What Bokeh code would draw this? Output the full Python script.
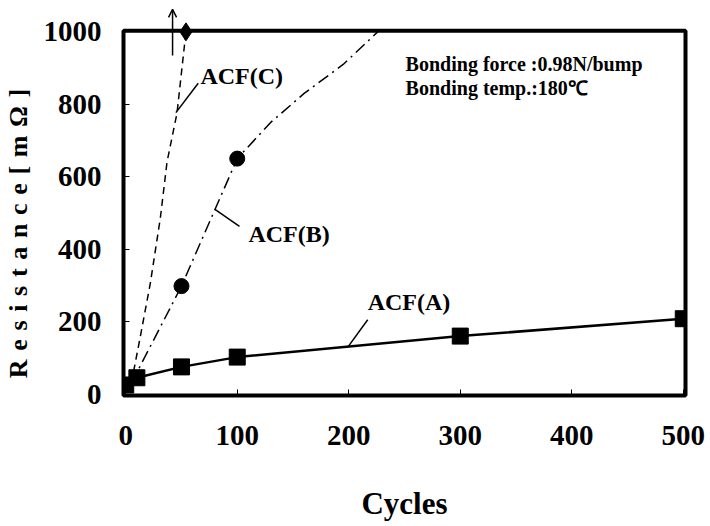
from bokeh.plotting import figure
from bokeh.models import Range1d, FixedTicker, Arrow, OpenHead
from bokeh.core.properties import value
from bokeh.embed import file_html
from bokeh.resources import INLINE

# ---- data ----
x_ticks = [0, 100, 200, 300, 400, 500]
y_ticks = [0, 200, 400, 600, 800, 1000]

# ACF(A): solid line with squares
a_cycles = [0, 10, 50, 100, 300, 500]
a_res = [25, 45, 75, 102, 160, 208]

# ACF(B): dash-dot line, circles at measured points
b_cycles = [5, 50, 100, 130, 160, 195, 226]
b_res = [30, 298, 650, 750, 830, 910, 1000]
b_mark_cycles = [50, 100]
b_mark_res = [298, 650]

# ACF(C): dashed line, diamond where it leaves the scale
c_cycles = [5, 12, 22, 31, 37, 46, 54]
c_res = [30, 141, 305, 485, 640, 776, 1000]
c_mark_cycles = [54]
c_mark_res = [1000]

# off-scale arrow for ACF(C)
arrow_x = 42
arrow_y0 = 935
arrow_y1 = 1062

# annotation texts
label_text = ["ACF(C)", "ACF(B)", "ACF(A)"]
label_x = [67, 110, 217]
label_y = [879, 441, 255]
lead_x0 = [65, 102, 217]
lead_y0 = [858, 463, 205]
lead_x1 = [45, 80, 199]
lead_y1 = [777, 510, 129]

cond_text = ["Bonding force :0.98N/bump", "Bonding temp.:180\u2103"]
cond_x = [251, 251]
cond_y = [912, 844]

# plot box (axes frame) limits
box_left, box_right = -2, 502
box_bottom, box_top = -4, 1003
view_top = 1070   # room above the box for the off-scale arrow

FONT = "Liberation Serif"
SP = "\u2004"
y_title = SP.join(list("Resistance[m\u03a9]")) + "\u2003\u2003\u2002"

p = figure(width=708, height=524, output_backend="svg", toolbar_location=None,
           x_range=Range1d(box_left, box_right), y_range=Range1d(box_bottom, view_top),
           min_border_left=123, min_border_right=23, min_border_top=6,
           min_border_bottom=129)

p.grid.visible = False
p.outline_line_color = None
p.background_fill_color = "white"
p.border_fill_color = "white"

for ax in (p.xaxis[0], p.yaxis[0]):
    ax.axis_line_color = None
    ax.major_tick_in = 6
    ax.major_tick_out = 0
    ax.minor_tick_line_color = None
    ax.major_tick_line_color = "black"
    ax.major_tick_line_width = 1
    ax.major_label_text_font = FONT
    ax.major_label_text_font_style = "bold"
    ax.major_label_text_font_size = "29px"
    ax.major_label_text_color = "black"
    ax.axis_label_text_font = FONT
    ax.axis_label_text_font_style = "bold"
    ax.axis_label_text_color = "black"

p.xaxis.ticker = FixedTicker(ticks=x_ticks)
p.yaxis.ticker = FixedTicker(ticks=y_ticks)
p.xaxis.major_label_standoff = 30
p.yaxis.major_label_standoff = 22
p.xaxis.axis_label = "Cycles"
p.xaxis.axis_label_text_font_size = "31px"
p.xaxis.axis_label_standoff = 38
p.yaxis.axis_label = y_title
p.yaxis.axis_label_text_font_size = "26px"
p.yaxis.axis_label_standoff = 8

# thick box around the data area
p.quad(left=[box_left], right=[box_right], bottom=[box_bottom], top=[box_top],
       fill_color=None, line_color="black", line_width=4, level="overlay")

# ACF(A)
p.line(a_cycles, a_res, line_color="black", line_width=2.5)
p.scatter(a_cycles, a_res, marker="square", size=16, fill_color="black",
          line_color="black")

# ACF(B)
p.line(b_cycles, b_res, line_color="black", line_width=1.5, line_dash="12 5 2 5")
p.scatter(b_mark_cycles, b_mark_res, marker="circle", size=15, fill_color="black",
          line_color="black")

# ACF(C)
p.line(c_cycles, c_res, line_color="black", line_width=1.5, line_dash="7 5")
p.scatter(c_mark_cycles, c_mark_res, marker="diamond", size=18, fill_color="black",
          line_color="black", level="overlay")
p.add_layout(Arrow(end=OpenHead(size=8, line_color="black", line_width=1.5),
                   x_start=arrow_x, y_start=arrow_y0, x_end=arrow_x, y_end=arrow_y1,
                   line_color="black", line_width=1.5))

# leader lines and labels
p.segment(lead_x0, lead_y0, lead_x1, lead_y1, line_color="black", line_width=1.5)
p.text(label_x, label_y, text=label_text, text_font=value(FONT),
       text_font_style="bold", text_font_size="24px", text_baseline="middle",
       text_align="left", text_color="black")
p.text(cond_x, cond_y, text=cond_text, text_font=value(FONT),
       text_font_style="bold", text_font_size="20px", text_baseline="middle",
       text_align="left", text_color="black")

open("out.html", "w").write(file_html(p, INLINE))
